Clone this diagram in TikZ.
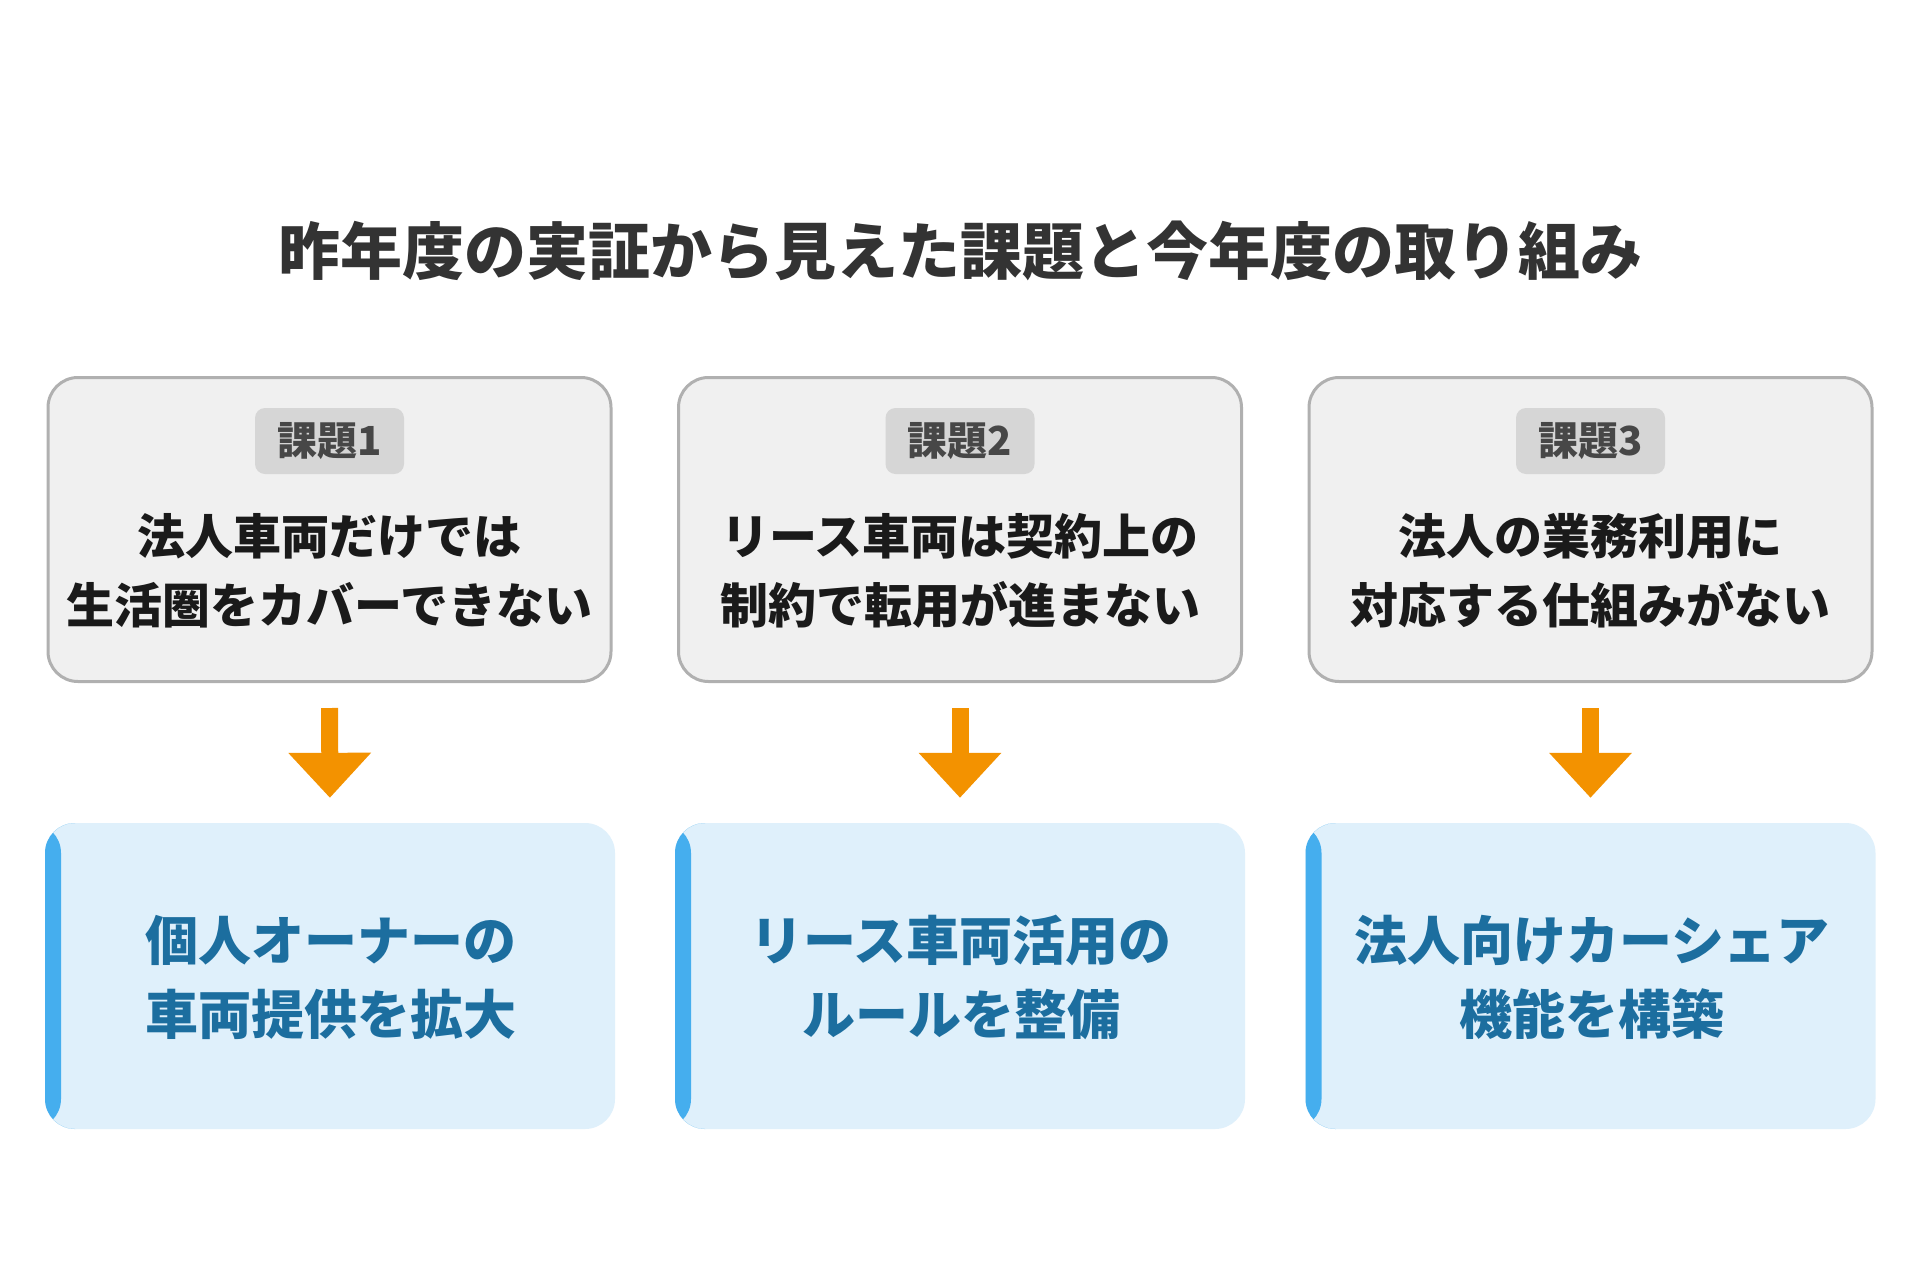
\documentclass[tikz,border=0pt]{standalone}
\usepackage{fontspec}
\setmainfont{Noto Sans CJK JP}
\usetikzlibrary{arrows.meta}
\definecolor{titlec}{HTML}{333333}
\definecolor{grayfill}{HTML}{F0F0F0}
\definecolor{grayline}{HTML}{B0B0B0}
\definecolor{tagfill}{HTML}{D6D6D6}
\definecolor{tagtext}{HTML}{474747}
\definecolor{bodytext}{HTML}{1A1A1A}
\definecolor{bluefill}{HTML}{DFF0FB}
\definecolor{stripe}{HTML}{45AEEE}
\definecolor{bluetext}{HTML}{1C6E9F}
\definecolor{arrowc}{HTML}{F39200}
\tikzset{
  issuebox/.style={draw=grayline, line width=3pt, fill=grayfill, rounded corners=30pt,
    minimum width=563pt, minimum height=304pt, inner sep=0pt},
  tagbox/.style={fill=tagfill, rounded corners=10pt, minimum width=149pt, minimum height=66pt,
    inner sep=0pt, text=tagtext, font=\fontsize{40}{44}\selectfont\bfseries},
  issuetext/.style={align=center, text=bodytext, inner sep=0pt, font=\fontsize{48}{69}\selectfont\bfseries},
  actionbox/.style={fill=bluefill, rounded corners=30pt, minimum width=570pt, minimum height=306pt,
    inner sep=0pt, path picture={\fill[stripe] (path picture bounding box.north west) rectangle ([xshift=16pt]path picture bounding box.south west);}},
  actiontext/.style={align=center, text=bluetext, inner sep=0pt, font=\fontsize{53}{74}\selectfont\bfseries},
  flow/.style={draw=arrowc, line width=17pt, line cap=butt, -{Triangle[width=80pt,length=45pt]},
    shorten <=25pt, shorten >=25pt}
}
\begin{document}
\begin{tikzpicture}[x=1pt,y=-1pt]
\useasboundingbox[fill=white] (0,0) rectangle (1920,1280);
\node[text=titlec, inner sep=0pt, font=\fontsize{62}{66}\selectfont\bfseries] (title) at (960,251) {昨年度の実証から見えた課題と今年度の取り組み};

\node[issuebox] (g1) at (329.5,529.5) {};
\node[issuebox] (g2) at (960,529.5) {};
\node[issuebox] (g3) at (1590.5,529.5) {};

\node[tagbox] (t1) at (329.5,441) {課題1};
\node[tagbox] (t2) at (960,441) {課題2};
\node[tagbox] (t3) at (1590.5,441) {課題3};

\node[issuetext] (i1) at (329.5,571) {法人車両だけでは\\生活圏をカバーできない};
\node[issuetext] (i2) at (960,571) {リース車両は契約上の\\制約で転用が進まない};
\node[issuetext] (i3) at (1590.5,571) {法人の業務利用に\\対応する仕組みがない};

\node[actionbox] (b1) at (330,976) {};
\node[actionbox] (b2) at (960,976) {};
\node[actionbox] (b3) at (1590.5,976) {};

\node[actiontext] (a1) at (331,977) {個人オーナーの\\車両提供を拡大};
\node[actiontext] (a2) at (961,977) {リース車両活用の\\ルールを整備};
\node[actiontext] (a3) at (1592,977) {法人向けカーシェア\\機能を構築};

\draw[flow] (g1.south) -- (b1.north);
\draw[flow] (g2.south) -- (b2.north);
\draw[flow] (g3.south) -- (b3.north);
\end{tikzpicture}
\end{document}
